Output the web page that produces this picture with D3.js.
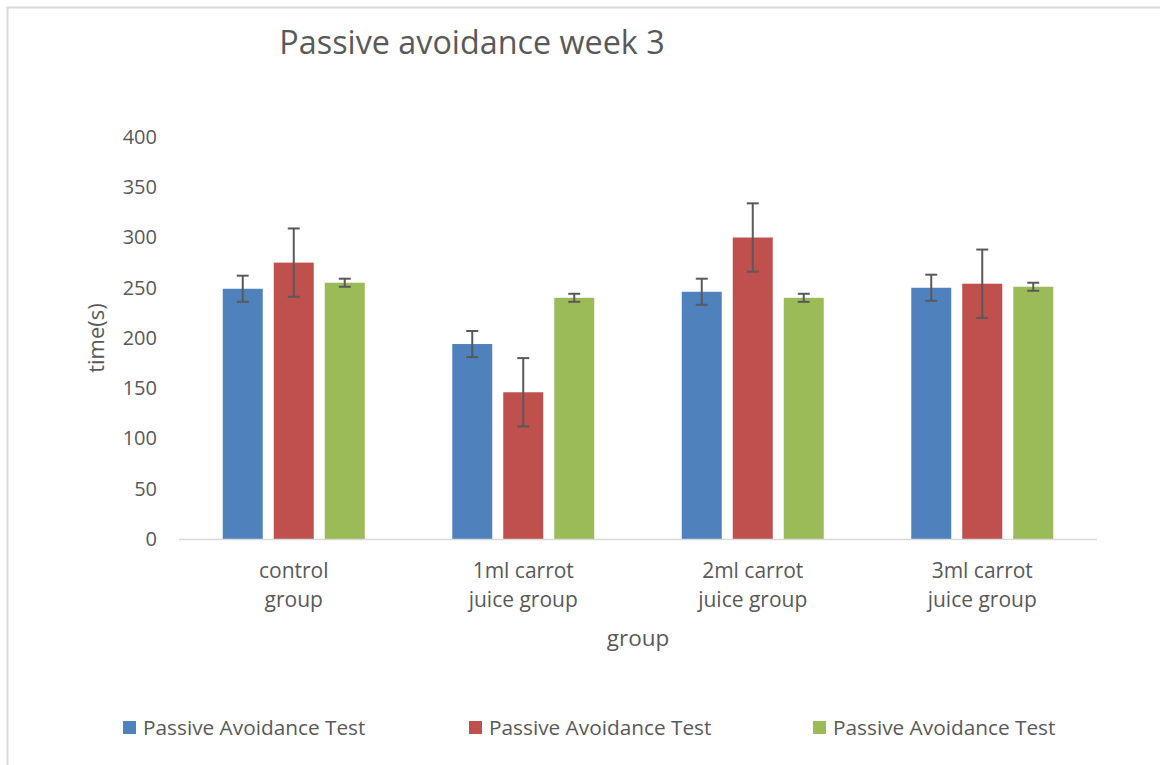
<!DOCTYPE html>
<html>
<head>
<meta charset="utf-8">
<script src="https://cdn.jsdelivr.net/npm/d3@7"></script>
<style>
  body { margin: 0; background: #fff; }
  text { font-family: "Open Sans", "Noto Sans", sans-serif; fill: #595959; }
</style>
</head>
<body>
<div class="chart"></div>
<script>
// chart values
var groups = ["control group", "1ml carrot juice group", "2ml carrot juice group", "3ml carrot juice group"];
var groupLines = [["control", "group"], ["1ml carrot", "juice group"], ["2ml carrot", "juice group"], ["3ml carrot", "juice group"]];
var seriesNames = ["Passive Avoidance Test", "Passive Avoidance Test", "Passive Avoidance Test"];
var seriesColors = ["#4F81BD", "#C0504D", "#9BBB59"];
var means = [
    [249, 194, 246, 250],
    [275, 146, 300, 254],
    [255, 240, 240, 251]
];
var errors = [
    [13, 13, 13, 13],
    [34, 34, 34, 34],
    [4, 4, 4, 4]
];
var yTicks = [0, 50, 100, 150, 200, 250, 300, 350, 400];

var W = 1160, H = 765;
var plot = { left: 179, right: 1097, top: 137, bottom: 539 };

var svg = d3.select(".chart")
  .append("svg")
    .attr("width", W)
    .attr("height", H);

// frame of the chart area (top and left edges show)
svg.append("path")
    .attr("d", "M7.5," + H + "V7.5H" + W)
    .attr("fill", "none")
    .attr("stroke", "#d9d9d9")
    .attr("stroke-width", 2);

var x = d3.scaleBand()
    .domain(groups)
    .range([plot.left, plot.right]);

var xs = d3.scaleBand()
    .domain(d3.range(seriesNames.length))
    .range([0, x.bandwidth()])
    .paddingInner(0.2157)
    .paddingOuter(0.858);

var y = d3.scaleLinear()
    .domain([0, 400])
    .range([plot.bottom, plot.top]);

// title
svg.append("text")
    .attr("x", 472)
    .attr("y", 54)
    .attr("text-anchor", "middle")
    .style("font-size", "32.3px")
    .text("Passive avoidance week 3");

// y axis labels
var yAxis = svg.append("g")
    .attr("class", "y axis")
    .attr("transform", "translate(" + (plot.left - 22) + ",0)")
    .call(d3.axisLeft(y).tickValues(yTicks).tickSize(0).tickPadding(0));
yAxis.select(".domain").remove();
yAxis.selectAll("text")
    .style("font-size", "20px")
    .attr("fill", "#595959");

// bars
var data = [];
means.forEach(function(row, s) {
    row.forEach(function(v, g) {
        data.push({ s: s, g: groups[g], value: v, err: errors[s][g] });
    });
});

svg.selectAll(".bar")
    .data(data)
    .enter()
    .append("rect")
    .attr("class", "bar")
    .attr("x", function(d) { return x(d.g) + xs(d.s); })
    .attr("width", xs.bandwidth())
    .attr("y", function(d) { return y(d.value); })
    .attr("height", function(d) { return y(0) - y(d.value); })
    .style("fill", function(d) { return seriesColors[d.s]; });

// x axis line
svg.append("line")
    .attr("x1", plot.left)
    .attr("x2", plot.right)
    .attr("y1", y(0) + 0.5)
    .attr("y2", y(0) + 0.5)
    .attr("stroke", "#d9d9d9")
    .attr("stroke-width", 1.5);

// error bars
var eb = svg.selectAll(".err")
    .data(data)
    .enter()
    .append("g")
    .attr("class", "err")
    .attr("stroke", "#595959")
    .attr("stroke-width", 2);
var cx = function(d) { return x(d.g) + xs(d.s) + xs.bandwidth() / 2; };
eb.append("line")
    .attr("x1", cx).attr("x2", cx)
    .attr("y1", function(d) { return y(d.value + d.err); })
    .attr("y2", function(d) { return y(d.value - d.err); });
[1, -1].forEach(function(sign) {
    eb.append("line")
        .attr("x1", function(d) { return cx(d) - 6; })
        .attr("x2", function(d) { return cx(d) + 6; })
        .attr("y1", function(d) { return y(d.value + sign * d.err); })
        .attr("y2", function(d) { return y(d.value + sign * d.err); });
});

// category labels
var cat = svg.selectAll(".cat")
    .data(groups)
    .enter()
    .append("text")
    .attr("class", "cat")
    .attr("text-anchor", "middle")
    .style("font-size", "21px")
    .attr("x", function(d) { return x(d) + x.bandwidth() / 2; })
    .attr("y", 578);
cat.selectAll("tspan")
    .data(function(d, i) { return groupLines[i]; })
    .enter()
    .append("tspan")
    .attr("x", function() { var p = this.parentNode.__data__; return x(p) + x.bandwidth() / 2; })
    .attr("dy", function(d, i) { return i === 0 ? 0 : 29; })
    .text(function(d) { return d; });

// axis titles
svg.append("text")
    .attr("x", (plot.left + plot.right) / 2)
    .attr("y", 646)
    .attr("text-anchor", "middle")
    .style("font-size", "22.5px")
    .text("group");

svg.append("text")
    .attr("transform", "translate(104," + 338 + ") rotate(-90)")
    .attr("text-anchor", "middle")
    .style("font-size", "22px")
    .text("time(s)");

// legend
var legendX = [123, 469, 813];
var legend = svg.selectAll(".legend")
    .data(seriesNames)
    .enter()
    .append("g")
    .attr("class", "legend")
    .attr("transform", function(d, i) { return "translate(" + legendX[i] + ",721)"; });
legend.append("rect")
    .attr("width", 13)
    .attr("height", 13)
    .style("fill", function(d, i) { return seriesColors[i]; });
legend.append("text")
    .attr("x", 20)
    .attr("y", 14)
    .style("font-size", "20.8px")
    .text(function(d) { return d; });
</script>
</body>
</html>
